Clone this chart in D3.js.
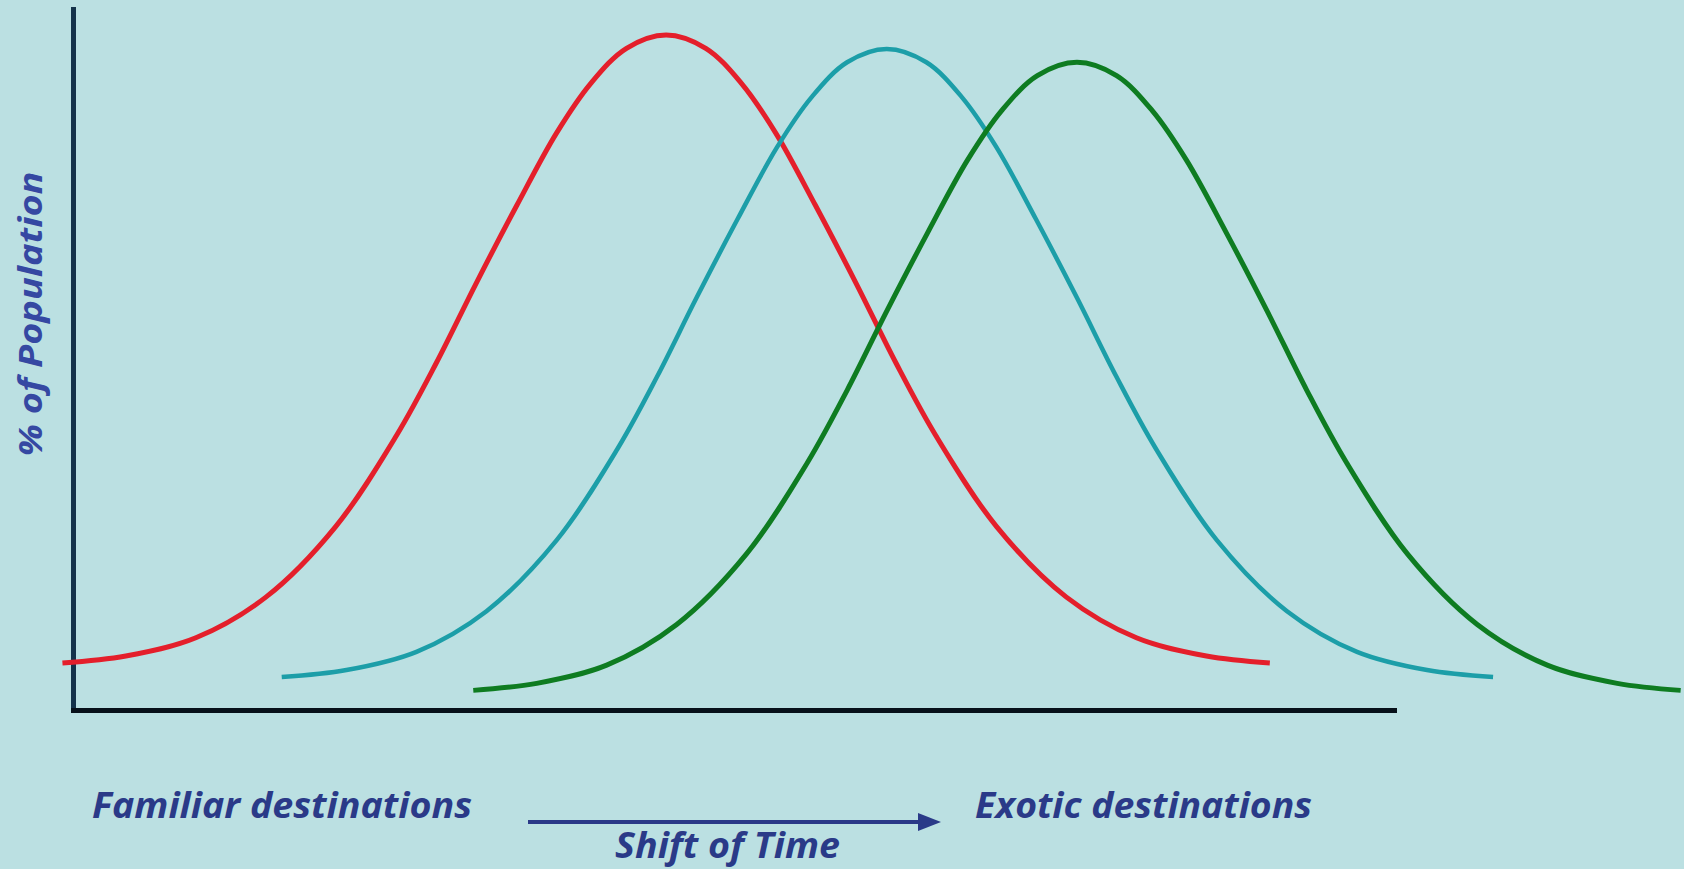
<!DOCTYPE html>
<html>
<head>
<meta charset="utf-8">
<script src="https://cdn.jsdelivr.net/npm/d3@7"></script>
<style>
	body { margin: 0; background: #bbe0e2; }
	text { font-family: "Open Sans", sans-serif; font-weight: 700; font-style: italic; }
</style>
</head>
<body>
<div id="main"></div>
<script>
// curve values (x = shift of time, y = % of population)
var redX = [-0.8, 4.0, 9.3, 14.6, 19.9, 24.5, 27.5, 30.5, 33.6, 36.6, 39.2, 41.9, 44.9, 47.9, 50.6, 53.2, 56.2, 59.3, 62.3, 65.3, 69.9, 75.2, 80.5, 85.8, 90.6];
var redY = [6.7, 7.7, 10.3, 16.1, 26.2, 39.2, 49.5, 60.8, 72.0, 82.3, 89.4, 94.4, 96.3, 94.4, 89.4, 82.3, 72.0, 60.8, 49.5, 39.2, 26.2, 16.1, 10.3, 7.7, 6.7];

var tealX = [15.8, 20.7, 26.0, 31.3, 36.6, 41.2, 44.2, 47.2, 50.3, 53.3, 55.9, 58.6, 61.6, 64.6, 67.3, 69.9, 72.9, 76.0, 79.0, 82.0, 86.6, 91.9, 97.2, 102.5, 107.5];
var tealY = [4.7, 5.7, 8.3, 14.1, 24.2, 37.2, 47.5, 58.8, 70.0, 80.3, 87.4, 92.4, 94.3, 92.4, 87.4, 80.3, 70.0, 58.8, 47.5, 37.2, 24.2, 14.1, 8.3, 5.7, 4.7];

var greenX = [30.3, 35.1, 40.4, 45.7, 51.0, 55.6, 58.6, 61.6, 64.7, 67.7, 70.3, 73.0, 76.0, 79.0, 81.7, 84.3, 87.3, 90.4, 93.4, 96.4, 101.0, 106.3, 111.6, 116.9, 121.7];
var greenY = [2.8, 3.8, 6.4, 12.2, 22.3, 35.3, 45.6, 56.9, 68.1, 78.4, 85.5, 90.5, 92.4, 90.5, 85.5, 78.4, 68.1, 56.9, 45.6, 35.3, 22.3, 12.2, 6.4, 3.8, 2.8];

var seriesColors = ["#e41f2b", "#1c9ea8", "#0e7c21"];

var series = [
	{ x: redX, y: redY },
	{ x: tealX, y: tealY },
	{ x: greenX, y: greenY }
];

var svg = d3.select("#main").append("svg")
	.attr("width", 1684)
	.attr("height", 869);

svg.append("rect")
	.attr("width", 1684)
	.attr("height", 869)
	.attr("fill", "#bbe0e2");

var xScale = d3.scaleLinear().domain([0, 100]).range([73, 1394]);
var yScale = d3.scaleLinear().domain([0, 100]).range([710, 9]);

// axes: plain thick lines, no ticks
var yAxis = svg.append("g")
	.attr("transform", "translate(73,0)")
	.call(d3.axisLeft(yScale).ticks(0).tickSizeOuter(0));
yAxis.select(".domain")
	.attr("stroke", "#14324a")
	.attr("stroke-width", 5)
	.attr("stroke-linecap", "square");

var xAxis = svg.append("g")
	.attr("transform", "translate(0,710)")
	.call(d3.axisBottom(xScale).ticks(0).tickSizeOuter(0));
xAxis.select(".domain")
	.attr("stroke", "#07111a")
	.attr("stroke-width", 5)
	.attr("stroke-linecap", "square");

var line = d3.line()
	.x(function(d) { return xScale(d[0]); })
	.y(function(d) { return yScale(d[1]); })
	.curve(d3.curveCatmullRom.alpha(0.5));

series.forEach(function(s, i) {
	var pts = s.x.map(function(v, j) { return [v, s.y[j]]; });
	svg.append("path")
		.datum(pts)
		.attr("fill", "none")
		.attr("stroke", seriesColors[i])
		.attr("stroke-width", i == 1 ? 4.5 : 5)
		.attr("stroke-linecap", "butt")
		.attr("d", line);
});

// labels
svg.append("text")
	.attr("transform", "translate(42,314) rotate(-90)")
	.attr("text-anchor", "middle")
	.attr("font-size", "33px")
	.attr("fill", "#3548a2")
	.attr("textLength", 285)
	.attr("lengthAdjust", "spacingAndGlyphs")
	.text("% of Population");

svg.append("text")
	.attr("x", 92).attr("y", 818)
	.attr("font-size", "36px")
	.attr("fill", "#2a3a88")
	.attr("textLength", 380)
	.attr("lengthAdjust", "spacingAndGlyphs")
	.text("Familiar destinations");

svg.append("text")
	.attr("x", 975).attr("y", 818)
	.attr("font-size", "36px")
	.attr("fill", "#2a3a88")
	.attr("textLength", 337)
	.attr("lengthAdjust", "spacingAndGlyphs")
	.text("Exotic destinations");

svg.append("text")
	.attr("x", 615).attr("y", 858)
	.attr("font-size", "36px")
	.attr("fill", "#2a3a88")
	.attr("textLength", 225)
	.attr("lengthAdjust", "spacingAndGlyphs")
	.text("Shift of Time");

// arrow
svg.append("line")
	.attr("x1", 528).attr("y1", 822)
	.attr("x2", 925).attr("y2", 822)
	.attr("stroke", "#2a3a88")
	.attr("stroke-width", 4);

svg.append("path")
	.attr("d", "M918,813L941,822L918,831Z")
	.attr("fill", "#2a3a88");
</script>
</body>
</html>
